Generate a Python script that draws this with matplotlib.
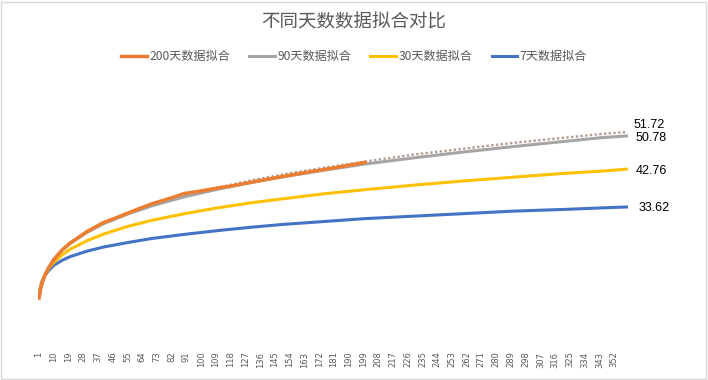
import matplotlib
matplotlib.use('Agg')
import matplotlib.pyplot as plt
from matplotlib.patches import Rectangle

plt.rcParams['font.family'] = ['Noto Sans CJK SC', 'DejaVu Sans']

# values (day -> fitted value)
days_fit = [1, 2, 3, 5, 7, 10, 15, 20, 30, 40, 55, 70, 90, 110, 130, 150, 175, 200,
            230, 260, 290, 320, 345, 360]
fit_7 = [12.3, 14.5, 15.9, 17.3, 18.3, 19.5, 20.7, 21.6, 22.9, 23.9, 25.0, 26.0, 27.0,
         27.9, 28.7, 29.4, 30.1, 30.8, 31.4, 32.0, 32.6, 33.0, 33.4, 33.62]
fit_30 = [12.5, 14.5, 15.7, 17.5, 18.8, 20.2, 22.0, 23.4, 25.4, 27.0, 28.9, 30.4, 32.0,
          33.4, 34.6, 35.6, 36.8, 37.8, 38.9, 39.9, 40.8, 41.7, 42.3, 42.76]
fit_90 = [11.8, 14.0, 15.5, 17.6, 19.1, 20.9, 23.1, 24.8, 27.4, 29.5, 31.9, 33.9, 36.1,
          37.9, 39.5, 40.9, 42.5, 44.0, 45.5, 46.9, 48.2, 49.4, 50.4, 50.78]
trend_200 = [11.5, 13.7, 15.2, 17.4, 18.9, 20.7, 23.0, 24.7, 27.5, 29.6, 32.1, 34.1, 36.4,
             38.3, 40.0, 41.5, 43.1, 44.6, 46.3, 47.7, 49.1, 50.3, 51.3, 51.72]

days_200 = [1, 2, 3, 5, 7, 10, 15, 20, 30, 40, 50, 60, 70, 80, 90, 100, 110, 120,
            140, 160, 180, 200]
data_200 = [11.6, 13.9, 15.4, 17.5, 19.0, 20.9, 23.2, 24.9, 27.6, 29.8, 31.3, 32.9, 34.4,
            35.6, 36.9, 37.5, 38.2, 38.8, 40.3, 41.7, 43.0, 44.4]

n_days = 360
tick_days = list(range(1, 353, 9))

end_labels = ['51.72', '50.78', '42.76', '33.62']
end_values = [51.72, 50.78, 42.76, 33.62]

fig = plt.figure(figsize=(7.08, 3.80), dpi=100)
ax = fig.add_axes([0.054, 0.0895, 0.833, 0.653])

ax.plot(days_fit, trend_200, linestyle=(0, (1, 1)), color='#b09c90', linewidth=1.7, zorder=2)
ax.plot(days_fit, fit_7, color='#4472C4', linewidth=2.2, label='7天数据拟合', zorder=3)
ax.plot(days_fit, fit_30, color='#FFC000', linewidth=2.2, label='30天数据拟合', zorder=4)
ax.plot(days_fit, fit_90, color='#A5A5A5', linewidth=2.2, label='90天数据拟合', zorder=5)
ax.plot(days_200, data_200, color='#ED7D31', linewidth=2.5, label='200天数据拟合', zorder=6)

# value labels at the right end
offsets = [1.7, -0.5, -0.5, -0.3]
xpos = [n_days + 4, n_days + 5, n_days + 5, n_days + 7]
for lab, val, off, xp in zip(end_labels, end_values, offsets, xpos):
    ax.text(xp, val + off, lab, fontsize=9, color='black',
            family=['Liberation Sans'], va='center', ha='left')

ax.set_xlim(0.5, n_days + 0.5)
ax.set_ylim(0, 60)
ax.set_xticks(tick_days)
ax.set_xticklabels([str(d) for d in tick_days], rotation=90, fontsize=6, color='#595959',
                   family=['DejaVu Sans'])
ax.tick_params(axis='x', length=0, pad=4)
ax.set_yticks([])
for s in ax.spines.values():
    s.set_visible(False)

fig.text(0.5, 0.942, '不同天数数据拟合对比', ha='center', va='center', fontsize=13.3,
         color='#595959')

handles, labels = ax.get_legend_handles_labels()
order = [3, 2, 1, 0]
fig.legend([handles[i] for i in order], [labels[i] for i in order],
           loc='center', bbox_to_anchor=(0.5, 0.852), ncol=4, frameon=False,
           fontsize=8.7, labelcolor='#595959', handlelength=2.1, handletextpad=0.2,
           columnspacing=1.6)

fig.patches.append(Rectangle((0.002, 0.003), 0.995, 0.993, transform=fig.transFigure,
                             fill=False, edgecolor='#d9d9d9', linewidth=1))

fig.savefig('out.png', dpi=100)
